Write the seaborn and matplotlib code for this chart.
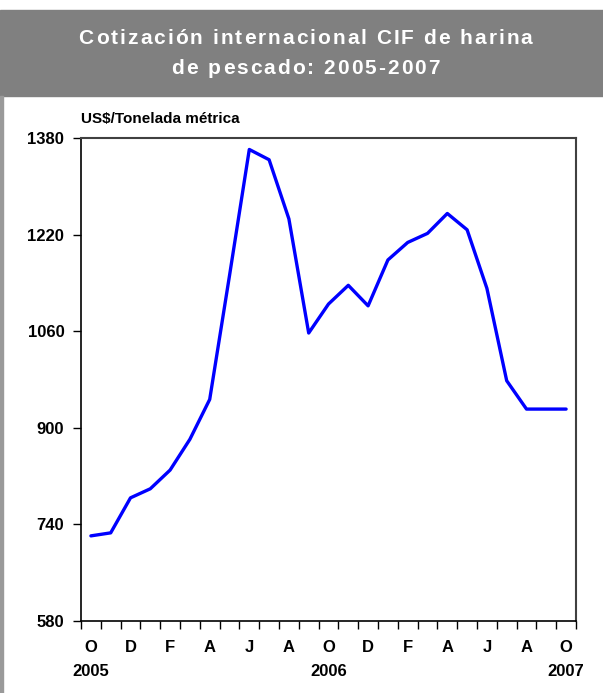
import matplotlib
matplotlib.use("Agg")
import matplotlib.pyplot as plt
import matplotlib.patches as patches
import matplotlib.transforms as mtransforms
from matplotlib.font_manager import FontProperties
import seaborn as sns
import pandas as pd

# monthly CIF quotation, Oct 2005 - Oct 2007 (US$/t)
months = ["O", "N", "D", "E", "F", "M", "A", "M", "J", "J", "A", "S",
          "O", "N", "D", "E", "F", "M", "A", "M", "J", "J", "A", "S", "O"]
prices = [721, 726, 784, 799, 830, 881, 947, 1152, 1361, 1344, 1246, 1057,
          1105, 1136, 1102, 1178, 1207, 1222, 1255, 1228, 1131, 978, 931, 931, 931]
year_labels = {0: "2005", 12: "2006", 24: "2007"}
y_ticks = [580, 740, 900, 1060, 1220, 1380]
title_lines = ["Cotización internacional CIF de harina", "de pescado: 2005-2007"]

df = pd.DataFrame({"idx": range(len(prices)), "price": prices, "month": months})

sns.set_style("white")
plt.rcParams["font.family"] = ["Liberation Sans", "DejaVu Sans"]
plt.rcParams["text.color"] = "black"
plt.rcParams["xtick.color"] = "black"
plt.rcParams["ytick.color"] = "black"

W, H = 603, 693
fig = plt.figure(figsize=(W / 100, H / 100), dpi=100)

# header band + left border
fig.patches.append(patches.Rectangle((0, 1 - 96 / H), 1, 86 / H,
                                     transform=fig.transFigure, color="#808080", zorder=0))
fig.patches.append(patches.Rectangle((0, 0), 3 / W, 1 - 96 / H,
                                     transform=fig.transFigure, color="#9a9a9a", zorder=0))


def spaced_text(line, y_px, extra=2.0, shift=4):
    # title is letter-spaced in the original, so place glyph by glyph
    prop = FontProperties(family="Liberation Sans", weight="bold", size=15)
    renderer = fig.canvas.get_renderer()
    widths = [renderer.get_text_width_height_descent(c, prop, ismath=False)[0] for c in line]
    total = sum(widths) + extra * (len(line) - 1)
    x = (W - total) / 2 + shift
    for c, w in zip(line, widths):
        fig.text(x / W, 1 - y_px / H, c, ha="left", va="center", color="white",
                 fontproperties=prop)
        x += w + extra


spaced_text(title_lines[0], 39)
spaced_text(title_lines[1], 69)

ax = fig.add_axes([81 / W, 1 - 621 / H, 495 / W, 483 / H])
sns.lineplot(data=df, x="idx", y="price", ax=ax, color="#0000ff", linewidth=2.4)

ax.set_xlim(-0.5, len(prices) - 0.5)
ax.set_ylim(580, 1380)
ax.set_yticks(y_ticks)
ax.set_yticklabels([str(v) for v in y_ticks], fontsize=12, fontweight="bold")
ax.set_xlabel("")
ax.set_ylabel("")

# tick marks between months, labels centred on every second month
ax.set_xticks([i - 0.5 for i in range(len(prices) + 1)])
ax.set_xticklabels([])
ax.set_xticks(list(range(0, len(prices), 2)), minor=True)
ax.set_xticklabels([months[i] for i in range(0, len(prices), 2)], minor=True,
                   fontsize=12, fontweight="bold")
ax.tick_params(axis="x", which="major", direction="out", length=6, width=1, color="black", bottom=True)
ax.tick_params(axis="x", which="minor", length=0, pad=14)
ax.tick_params(axis="y", direction="out", length=6, width=1, color="black", left=True, pad=6)

trans = mtransforms.blended_transform_factory(ax.transData, ax.transAxes)
for i, lab in year_labels.items():
    ax.text(i, -51 / 483, lab, transform=trans, ha="center", va="center",
            fontsize=12, fontweight="bold")

ax.text(0.0, 1.04, "US$/Tonelada métrica", transform=ax.transAxes, ha="left",
        va="center", fontsize=11, fontweight="bold")

for side in ["left", "bottom"]:
    ax.spines[side].set_color("black")
    ax.spines[side].set_linewidth(1.2)
for side in ["top", "right"]:
    ax.spines[side].set_color("#404040")
    ax.spines[side].set_linewidth(1.5)

fig.savefig("out.png", dpi=100)
